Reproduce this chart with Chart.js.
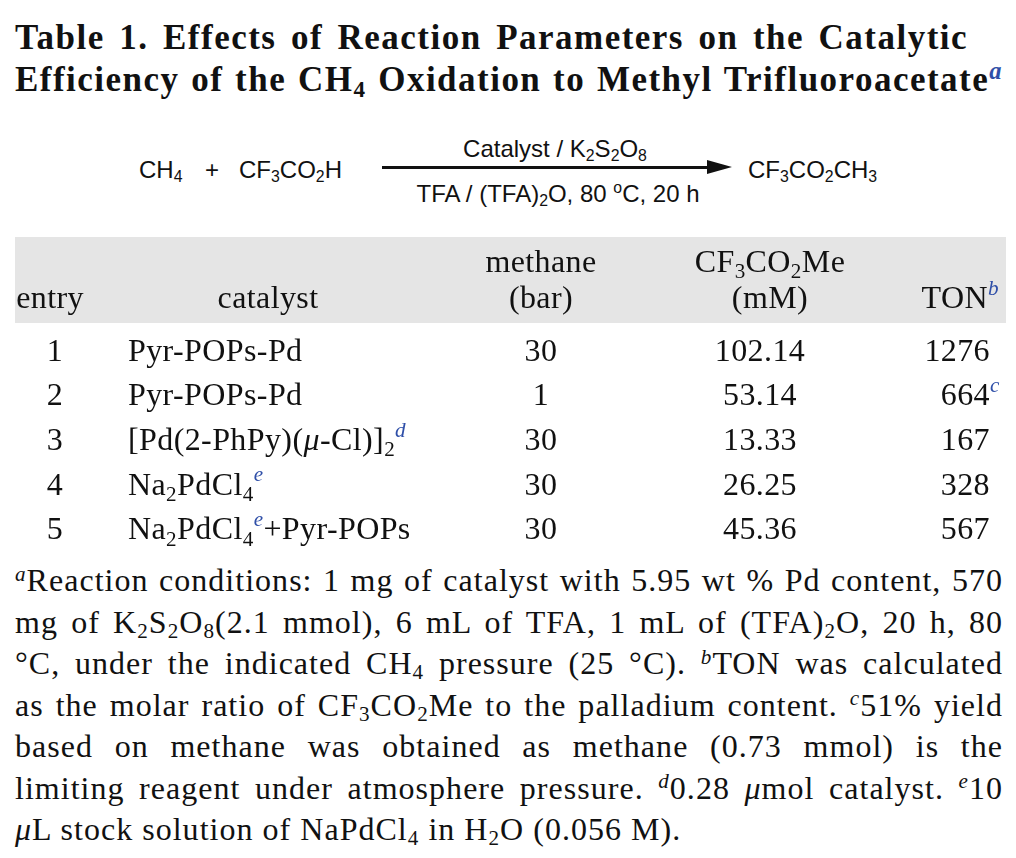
<!DOCTYPE html>
<html>
<head>
<meta charset="utf-8">
<script src="https://cdn.jsdelivr.net/npm/chart.js@4.4.1/dist/chart.umd.min.js"></script>
<style>
  body { margin: 0; width: 1016px; height: 858px; position: relative; overflow: hidden; background: #fff; color: #111; }
  .serif { font-family: "Liberation Serif", "Times New Roman", serif; }
  .fit { display: inline-block; white-space: nowrap; }
  .line { display: block; white-space: nowrap; }
  sub, sup { font-size: 0.66em; line-height: 0; position: relative; vertical-align: baseline; }
  sub { top: 0.26em; }
  sup { top: -0.48em; }
  #title { position: absolute; left: 15px; top: 17px; font-size: 35px; line-height: 42px; font-weight: bold; }
  #title sup { color: #2f4fa8; font-size: 0.7em; }
  .scheme { position: absolute; font-family: "Liberation Sans", Arial, sans-serif; font-size: 24px; line-height: 24px; white-space: nowrap; }
  .mid { transform: translateX(-50%); }
  #shaft { position: absolute; left: 382px; top: 166px; width: 330px; height: 3px; background: #111; }
  #head { position: absolute; left: 707px; top: 160px; width: 0; height: 0;
          border-left: 25px solid #111; border-top: 7.5px solid transparent; border-bottom: 7.5px solid transparent; }
  #notes { position: absolute; left: 15px; top: 560px; font-size: 32px; line-height: 41.5px; }
  #tableWrap { position: absolute; left: 0; top: 237px; width: 1016px; height: 314px; }
</style>
</head>
<body>

<div id="title" class="serif">
  <span class="line"><span class="fit" id="titleRef" data-w="953">Table 1. Effects of Reaction Parameters on the Catalytic</span></span>
  <span class="line"><span class="fit" data-w="988">Efficiency of the CH<sub>4</sub> Oxidation to Methyl Trifluoroacetate<sup><i>a</i></sup></span></span>
</div>

<div class="scheme" style="left:139px;top:158px">CH<sub>4</sub></div>
<div class="scheme mid" style="left:212px;top:158px">+</div>
<div class="scheme" style="left:239px;top:158px">CF<sub>3</sub>CO<sub>2</sub>H</div>
<div class="scheme mid" style="left:555px;top:137px">Catalyst / K<sub>2</sub>S<sub>2</sub>O<sub>8</sub></div>
<div id="shaft"></div><div id="head"></div>
<div class="scheme mid" style="left:558px;top:182px">TFA / (TFA)<sub>2</sub>O, 80 <sup style="top:-0.55em">o</sup>C, 20 h</div>
<div class="scheme" style="left:748px;top:158px">CF<sub>3</sub>CO<sub>2</sub>CH<sub>3</sub></div>

<div id="tableWrap"><canvas id="tableChart"></canvas></div>

<div id="notes" class="serif">
  <span class="line"><span class="fit" data-w="988"><sup><i>a</i></sup>Reaction conditions: 1 mg of catalyst with 5.95 wt % Pd content, 570</span></span>
  <span class="line"><span class="fit" data-w="988">mg of K<sub>2</sub>S<sub>2</sub>O<sub>8</sub>(2.1 mmol), 6 mL of TFA, 1 mL of (TFA)<sub>2</sub>O, 20 h, 80</span></span>
  <span class="line"><span class="fit" data-w="988">°C, under the indicated CH<sub>4</sub> pressure (25 °C). <sup><i>b</i></sup>TON was calculated</span></span>
  <span class="line"><span class="fit" data-w="988">as the molar ratio of CF<sub>3</sub>CO<sub>2</sub>Me to the palladium content. <sup><i>c</i></sup>51% yield</span></span>
  <span class="line"><span class="fit" data-w="988">based on methane was obtained as methane (0.73 mmol) is the</span></span>
  <span class="line"><span class="fit" data-w="988">limiting reagent under atmosphere pressure. <sup><i>d</i></sup>0.28 <i>μ</i>mol catalyst. <sup><i>e</i></sup>10</span></span>
  <span class="line"><span class="fit" id="notesRef"><i>μ</i>L stock solution of NaPdCl<sub>4</sub> in H<sub>2</sub>O (0.056 M).</span></span>
</div>

<script>
// table values
const entries = ['1', '2', '3', '4', '5'];
const catalysts = ['Pyr-POPs-Pd', 'Pyr-POPs-Pd', '[Pd(2-PhPy)(*{μ}-Cl)]_{2}^{d}', 'Na_{2}PdCl_{4}^{e}', 'Na_{2}PdCl_{4}^{e}+Pyr-POPs'];
const methaneBar = [30, 1, 30, 30, 30];
const esterMM = [102.14, 53.14, 13.33, 26.25, 45.36];
const ton = [1276, 664, 167, 328, 567];
const tonNotes = ['', 'c', '', '', ''];

// header labels (two lines)
const headTop = ['', '', 'methane', 'CF_{3}CO_{2}Me', ''];
const headBottom = ['entry', 'catalyst', '(bar)', '(mM)', 'TON^{b}'];

// column layout, in page pixels along the x axis
const columns = [
  { x: 55, align: 'center', hx: 50, halign: 'center' },
  { x: 128, align: 'left', hx: 268, halign: 'center' },
  { x: 541, align: 'center', hx: 541, halign: 'center' },
  { x: 760, align: 'center', hx: 770, halign: 'center' },
  { x: 990, align: 'right', hx: 988, halign: 'right' }
];

const FONT = '"Liberation Serif", "Times New Roman", serif';
const SIZE = 32;
const TRACK = '0.4px';
const INK = '#111';
const NOTE_BLUE = '#2f4fa8';

// tracking for a text block: as wide as the free line wants, but never so wide
// that a justified line would need negative word spacing
const widthOf = el => el.getBoundingClientRect().width;
function setBlock(block, ref, refTarget) {
  const lines = [...block.querySelectorAll('.fit[data-w]')];
  block.style.letterSpacing = '0px';
  lines.forEach(el => { el.style.wordSpacing = '0px'; });
  let track = (refTarget - widthOf(ref)) / ref.textContent.length;
  lines.forEach(el => {
    const spaces = (el.textContent.match(/ /g) || []).length;
    track = Math.min(track, (+el.dataset.w - widthOf(el) - spaces * 1.5) / el.textContent.length);
  });
  block.style.letterSpacing = Math.max(0, track) + 'px';
  lines.forEach(el => {
    const spaces = (el.textContent.match(/ /g) || []).length;
    if (spaces) el.style.wordSpacing = ((+el.dataset.w - widthOf(el)) / spaces) + 'px';
  });
}
setBlock(document.getElementById('title'), document.getElementById('titleRef'), 953);
setBlock(document.getElementById('notes'), document.getElementById('notesRef'), 756);

// tiny markup: _{sub} ^{footnote} *{italic}
function parseRich(s) {
  const parts = [];
  const re = /([_^*])\{([^}]*)\}/g;
  let last = 0, m;
  while ((m = re.exec(s))) {
    if (m.index > last) parts.push({ t: s.slice(last, m.index), k: '' });
    parts.push({ t: m[2], k: m[1] });
    last = re.lastIndex;
  }
  if (last < s.length) parts.push({ t: s.slice(last), k: '' });
  return parts;
}

function segFont(k) {
  if (k === '_') return `${SIZE * 0.66}px ${FONT}`;
  if (k === '^') return `italic ${SIZE * 0.66}px ${FONT}`;
  if (k === '*') return `italic ${SIZE}px ${FONT}`;
  return `${SIZE}px ${FONT}`;
}

function drawRich(ctx, s, x, y, align) {
  const parts = parseRich(s);
  ctx.letterSpacing = TRACK;
  let w = 0, wMain = 0;
  parts.forEach(p => {
    ctx.font = segFont(p.k);
    p.w = ctx.measureText(p.t).width;
    w += p.w;
    if (p.k !== '^') wMain = w;
  });
  let cx = align === 'left' ? x : align === 'right' ? x - wMain : x - wMain / 2;
  ctx.textBaseline = 'alphabetic';
  ctx.textAlign = 'left';
  parts.forEach(p => {
    ctx.font = segFont(p.k);
    ctx.fillStyle = p.k === '^' ? NOTE_BLUE : INK;
    const dy = p.k === '_' ? SIZE * 0.2 : p.k === '^' ? -SIZE * 0.42 : 0;
    ctx.fillText(p.t, cx, y + dy);
    cx += p.w;
  });
}

const cellText = {
  id: 'cellText',
  beforeDraw(chart) {
    const ctx = chart.ctx;
    const x = chart.scales.x;
    ctx.save();
    ctx.fillStyle = '#e5e5e5';
    ctx.fillRect(x.getPixelForValue(15), 0, x.getPixelForValue(1006) - x.getPixelForValue(15), 86);
    columns.forEach((c, i) => {
      if (headTop[i]) drawRich(ctx, headTop[i], x.getPixelForValue(c.hx), 35, c.halign);
      drawRich(ctx, headBottom[i], x.getPixelForValue(c.hx), 71, c.halign);
    });
    ctx.restore();
  },
  afterDatasetsDraw(chart) {
    const ctx = chart.ctx;
    ctx.save();
    chart.data.datasets.forEach((ds, di) => {
      chart.getDatasetMeta(di).data.forEach((pt, i) => {
        drawRich(ctx, ds.data[i].text, pt.x, pt.y + 10.5, ds.align);
      });
    });
    ctx.restore();
  }
};

const cells = [
  entries,
  catalysts,
  methaneBar.map(String),
  esterMM.map(v => v.toFixed(2)),
  ton.map((v, i) => tonNotes[i] ? `${v}^{${tonNotes[i]}}` : String(v))
];

new Chart(document.getElementById('tableChart'), {
  type: 'scatter',
  data: {
    labels: entries,
    datasets: cells.map((col, ci) => ({
      data: col.map((t, ri) => ({ x: columns[ci].x, y: entries[ri], text: t })),
      align: columns[ci].align,
      pointRadius: 0,
      showLine: false
    }))
  },
  options: {
    responsive: true,
    maintainAspectRatio: false,
    animation: false,
    layout: { padding: { top: 91, bottom: 0, left: 0, right: 0 } },
    plugins: { legend: { display: false }, tooltip: { enabled: false } },
    scales: {
      x: { type: 'linear', min: 0, max: 1016, display: false },
      y: { type: 'category', labels: entries, offset: true, display: false }
    }
  },
  plugins: [cellText]
});
</script>
</body>
</html>
